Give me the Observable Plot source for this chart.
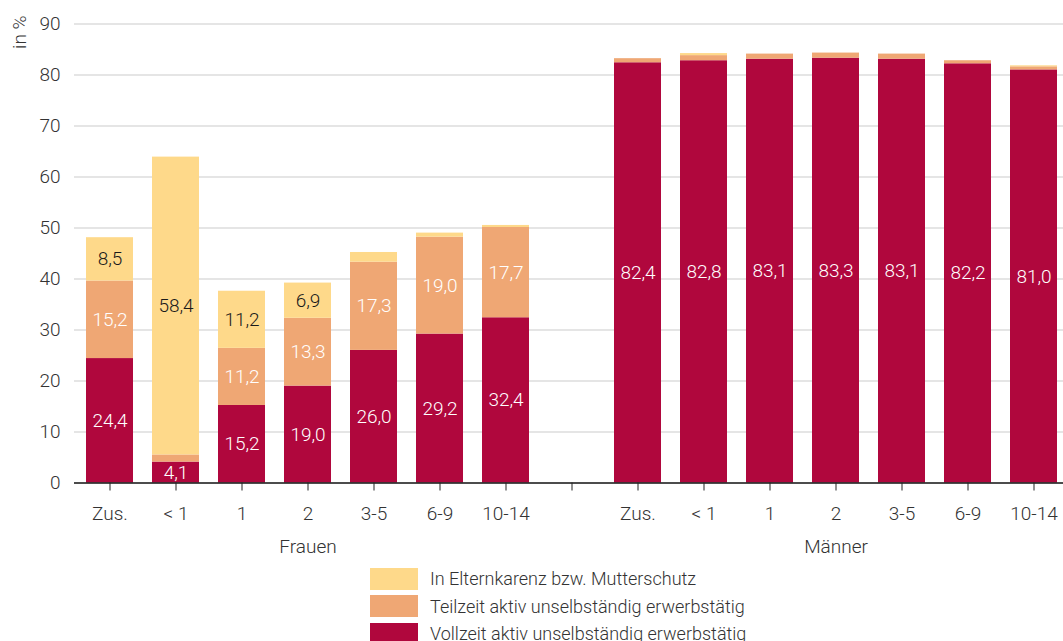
<!DOCTYPE html>
<html><head><meta charset="utf-8">
<script src="https://cdn.jsdelivr.net/npm/d3@7"></script>
<script src="https://cdn.jsdelivr.net/npm/@observablehq/plot@0.6"></script>
<style>
body{margin:0;background:#fff;overflow:hidden;font-family:Roboto,"Liberation Sans",sans-serif;}
#chart{position:absolute;left:0;top:0;}
#legend{position:absolute;left:370px;top:565px;}
.row{display:flex;align-items:center;height:27.5px;}
.row .sw{width:48px;height:22px;margin-right:12px;flex:none;}
.row .lab{font-size:18px;color:#333;font-weight:300;white-space:nowrap;}
</style></head><body>
<div id="chart"></div>
<div id="legend"></div>
<script>
const categories = ["Zus.", "< 1", "1", "2", "3-5", "6-9", "10-14"];
const groups = ["Frauen", "Männer"];
const seriesNames = ["Vollzeit aktiv unselbständig erwerbstätig", "Teilzeit aktiv unselbständig erwerbstätig", "In Elternkarenz bzw. Mutterschutz"];
const seriesColors = ["#B0073D", "#EFA774", "#FED98A"];
const vollzeitFrauen = [24.4, 4.1, 15.2, 19.0, 26.0, 29.2, 32.4];
const teilzeitFrauen = [15.2, 1.4, 11.2, 13.3, 17.3, 19.0, 17.7];
const karenzFrauen = [8.5, 58.4, 11.2, 6.9, 1.9, 0.8, 0.4];
const vollzeitMaenner = [82.4, 82.8, 83.1, 83.3, 83.1, 82.2, 81.0];
const teilzeitMaenner = [0.8, 1.0, 1.0, 1.0, 1.0, 0.6, 0.6];
const karenzMaenner = [0.0, 0.4, 0.0, 0.0, 0.0, 0.0, 0.2];
const yTicks = [0, 10, 20, 30, 40, 50, 60, 70, 80, 90];

const seriesByGroup = {
  "Frauen": [vollzeitFrauen, teilzeitFrauen, karenzFrauen],
  "Männer": [vollzeitMaenner, teilzeitMaenner, karenzMaenner]
};
const slots = [
  ...categories.map(c => "Frauen|" + c),
  "gap",
  ...categories.map(c => "Männer|" + c)
];
const rows = [];
for (const g of groups) {
  categories.forEach((c, i) => {
    seriesNames.forEach((s, k) => {
      rows.push({slot: g + "|" + c, series: s, value: seriesByGroup[g][k][i]});
    });
  });
}
const fmt = v => d3.format(".1f")(v).replace(".", ",");
const showLabel = d => d.value >= 3;

const chart = Plot.plot({
  width: 1063,
  height: 560,
  marginLeft: 74,
  marginRight: 0,
  marginTop: 23.5,
  marginBottom: 77.5,
  style: {fontFamily: "Roboto, 'Liberation Sans', sans-serif", fontSize: "19px", fontWeight: 300, color: "#333", background: "#fff", overflow: "hidden"},
  x: {type: "band", domain: slots, range: [64.7, 1078.5], padding: 0.291, label: null},
  y: {domain: [0, 90], label: null},
  color: {domain: seriesNames, range: seriesColors},
  marks: [
    Plot.ruleY(yTicks.filter(d => d > 0), {stroke: "#dcdcdc", strokeWidth: 1.5}),
    Plot.barY(rows, {x: "slot", y: "value", fill: "series", order: seriesNames}),
    Plot.ruleY([0], {stroke: "#111", strokeWidth: 1.5}),
    Plot.axisX({tickSize: 8, tickPadding: 15.5, stroke: "#222", label: null, fill: "#333",
      tickFormat: d => d === "gap" ? "" : d.split("|")[1]}),
    Plot.axisY({ticks: yTicks, tickSize: 0, tickPadding: 14, label: null, fill: "#333"}),
    Plot.text(rows, Plot.stackY({x: "slot", y: "value", z: "series", order: seriesNames,
      text: d => (showLabel(d) && d.series !== seriesNames[2]) ? fmt(d.value) : "", fill: "white"})),
    Plot.text(rows, Plot.stackY({x: "slot", y: "value", z: "series", order: seriesNames,
      text: d => (showLabel(d) && d.series === seriesNames[2]) ? fmt(d.value) : "", fill: "#1a1a1a"})),
    Plot.text(groups, {x: g => g + "|2", frameAnchor: "bottom", lineAnchor: "middle", dy: 64, fill: "#333"}),
    Plot.text(["in %"], {frameAnchor: "top-left", rotate: -90, textAnchor: "end", lineAnchor: "middle", dx: -55, dy: -8.5, fill: "#333"})
  ]
});
document.getElementById("chart").append(chart);

const legend = document.getElementById("legend");
[2, 1, 0].forEach(k => {
  const row = document.createElement("div");
  row.className = "row";
  const sw = document.createElement("div");
  sw.className = "sw";
  sw.style.background = seriesColors[k];
  const lab = document.createElement("div");
  lab.className = "lab";
  lab.textContent = seriesNames[k];
  row.append(sw, lab);
  legend.append(row);
});
</script>
</body></html>
